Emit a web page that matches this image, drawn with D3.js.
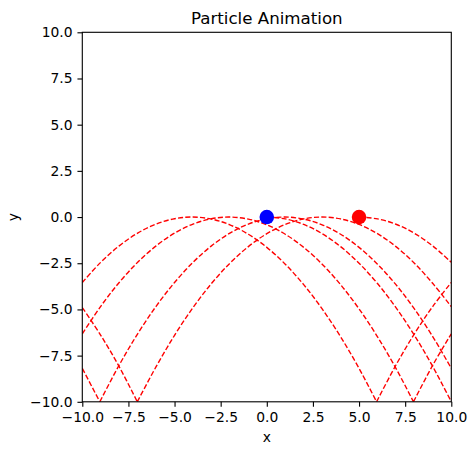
<!DOCTYPE html>
<html>
<head>
<meta charset="utf-8">
<script src="https://cdn.jsdelivr.net/npm/d3@7"></script>
<style>
body { margin: 0; background: #fff; }
svg { display: block; font-family: "DejaVu Sans", sans-serif; }
</style>
</head>
<body>
<svg id="chart" width="476" height="455"></svg>
<script>
// values
var xTicks = [-10, -7.5, -5, -2.5, 0, 2.5, 5, 7.5, 10];
var yTicks = [-10, -7.5, -5, -2.5, 0, 2.5, 5, 7.5, 10];

// particles: blue, red
var particleX = [0, 5];
var particleY = [0, 0];

// trails as [x, y], the V points are where they hit the floor
var trailA = [[-10, -3.54], [-9, -2.45], [-8, -1.56], [-7, -0.87], [-6, -0.38], [-5, -0.09],
    [-4.05, 0], [-3, -0.11], [-2, -0.42], [-1, -0.93], [0, -1.64], [1, -2.55], [2, -3.66],
    [3, -4.97], [4, -6.48], [5, -8.19], [5.95, -10], [7, -8.01], [8, -6.32], [9, -4.83], [10, -3.54]];
var trailB = [[-10, -6.32], [-9, -4.83], [-8, -3.54], [-7, -2.45], [-6, -1.56], [-5, -0.87],
    [-4, -0.38], [-3, -0.09], [-2.05, 0], [-1, -0.11], [0, -0.42], [1, -0.93], [2, -1.64],
    [3, -2.55], [4, -3.66], [5, -4.97], [6, -6.48], [7, -8.19], [7.95, -10], [9, -8.01], [10, -6.32]];
var trailC = [[-10, -4.9], [-9, -6.4], [-8, -8.1], [-7.02, -10], [-6, -8.1], [-5, -6.4],
    [-4, -4.9], [-3, -3.6], [-2, -2.5], [-1, -1.6], [0, -0.9], [1, -0.4], [2, -0.1], [3, 0],
    [4, -0.1], [5, -0.4], [6, -0.9], [7, -1.6], [8, -2.5], [9, -3.6], [10, -4.85]];
var trailD = [[-10, -8.19], [-9.05, -10], [-8, -8.01], [-7, -6.32], [-6, -4.83], [-5, -3.54],
    [-4, -2.45], [-3, -1.56], [-2, -0.87], [-1, -0.38], [0, -0.09], [0.95, 0], [2, -0.11],
    [3, -0.42], [4, -0.93], [5, -1.64], [6, -2.55], [7, -3.66], [8, -4.97], [9, -6.48], [10, -8.19]];
var trailE = [[5, 0], [6, -0.1], [7, -0.39], [8, -0.88], [9, -1.57], [10, -2.45]];
var trailF = [[0, 0], [1, -0.1], [2, -0.4], [3, -0.9], [4, -1.6], [5, -2.5], [6, -3.6],
    [7, -4.9], [8, -6.4], [9, -8.1], [10, -10]];

var trails = [trailA, trailB, trailC, trailD, trailE, trailF];

var svg = d3.select("#chart");
var plotLeft = 82.3, plotRight = 451.3, plotTop = 32.3, plotBottom = 401.8;

var x = d3.scaleLinear().domain([-10, 10]).range([plotLeft, plotRight]);
var y = d3.scaleLinear().domain([-10, 10]).range([plotBottom, plotTop]);

svg.append("defs").append("clipPath").attr("id", "plotArea")
    .append("rect")
    .attr("x", plotLeft).attr("y", plotTop)
    .attr("width", plotRight - plotLeft).attr("height", plotBottom - plotTop);

var plot = svg.append("g").attr("clip-path", "url(#plotArea)");

var line = d3.line()
    .x(function(d) { return x(d[0]); })
    .y(function(d) { return y(d[1]); })
    .curve(d3.curveCatmullRom.alpha(0.5));

// split at the floor so the bounce stays sharp
function pieces(trail) {
    var out = [], cur = [];
    for (var i = 0; i < trail.length; i++) {
        cur.push(trail[i]);
        if (trail[i][1] <= -10 && i > 0 && i < trail.length - 1) {
            out.push(cur);
            cur = [trail[i]];
        }
    }
    out.push(cur);
    return out;
}

trails.forEach(function(t) {
    var d = pieces(t).map(function(p) { return line(p); }).join("");
    plot.append("path")
        .attr("d", d)
        .attr("fill", "none")
        .attr("stroke", "#ff0000")
        .attr("stroke-width", 1.39)
        .attr("stroke-dasharray", "5.14,2.22");
});

var dotColor = ["#0000ff", "#ff0000"];
plot.selectAll("circle.particle")
    .data(particleX)
    .enter()
    .append("circle")
    .attr("class", "particle")
    .attr("cx", function(d) { return x(d); })
    .attr("cy", function(d, i) { return y(particleY[i]); })
    .attr("r", 7.3)
    .attr("fill", function(d, i) { return dotColor[i]; });

// axes
var fmt = d3.format(".1f");
var xAxis = d3.axisBottom(x).tickValues(xTicks).tickFormat(fmt)
    .tickSize(4.86).tickPadding(4.86).tickSizeOuter(0);
var yAxis = d3.axisLeft(y).tickValues(yTicks).tickFormat(fmt)
    .tickSize(4.86).tickPadding(4.86).tickSizeOuter(0);

var gx = svg.append("g").attr("transform", "translate(0," + plotBottom + ")").call(xAxis);
var gy = svg.append("g").attr("transform", "translate(" + plotLeft + ",0)").call(yAxis);

[gx, gy].forEach(function(g) {
    g.select(".domain").remove();
    g.selectAll(".tick line").attr("stroke", "#000").attr("stroke-width", 1.11);
    g.selectAll(".tick text")
        .attr("fill", "#000")
        .style("font-family", "'DejaVu Sans', sans-serif")
        .style("font-size", "13.89px");
});
gx.selectAll(".tick text").attr("dy", "0.76em");

svg.append("rect")
    .attr("x", plotLeft).attr("y", plotTop)
    .attr("width", plotRight - plotLeft).attr("height", plotBottom - plotTop)
    .attr("fill", "none")
    .attr("stroke", "#000")
    .attr("stroke-width", 1.11);

// labels
svg.append("text")
    .attr("x", (plotLeft + plotRight) / 2).attr("y", 24)
    .attr("text-anchor", "middle")
    .style("font-size", "16.67px")
    .text("Particle Animation");

svg.append("text")
    .attr("x", (plotLeft + plotRight) / 2).attr("y", 442)
    .attr("text-anchor", "middle")
    .style("font-size", "13.89px")
    .text("x");

svg.append("text")
    .attr("transform", "translate(17.5," + ((plotTop + plotBottom) / 2) + ") rotate(-90)")
    .attr("text-anchor", "middle")
    .style("font-size", "13.89px")
    .text("y");
</script>
</body>
</html>
